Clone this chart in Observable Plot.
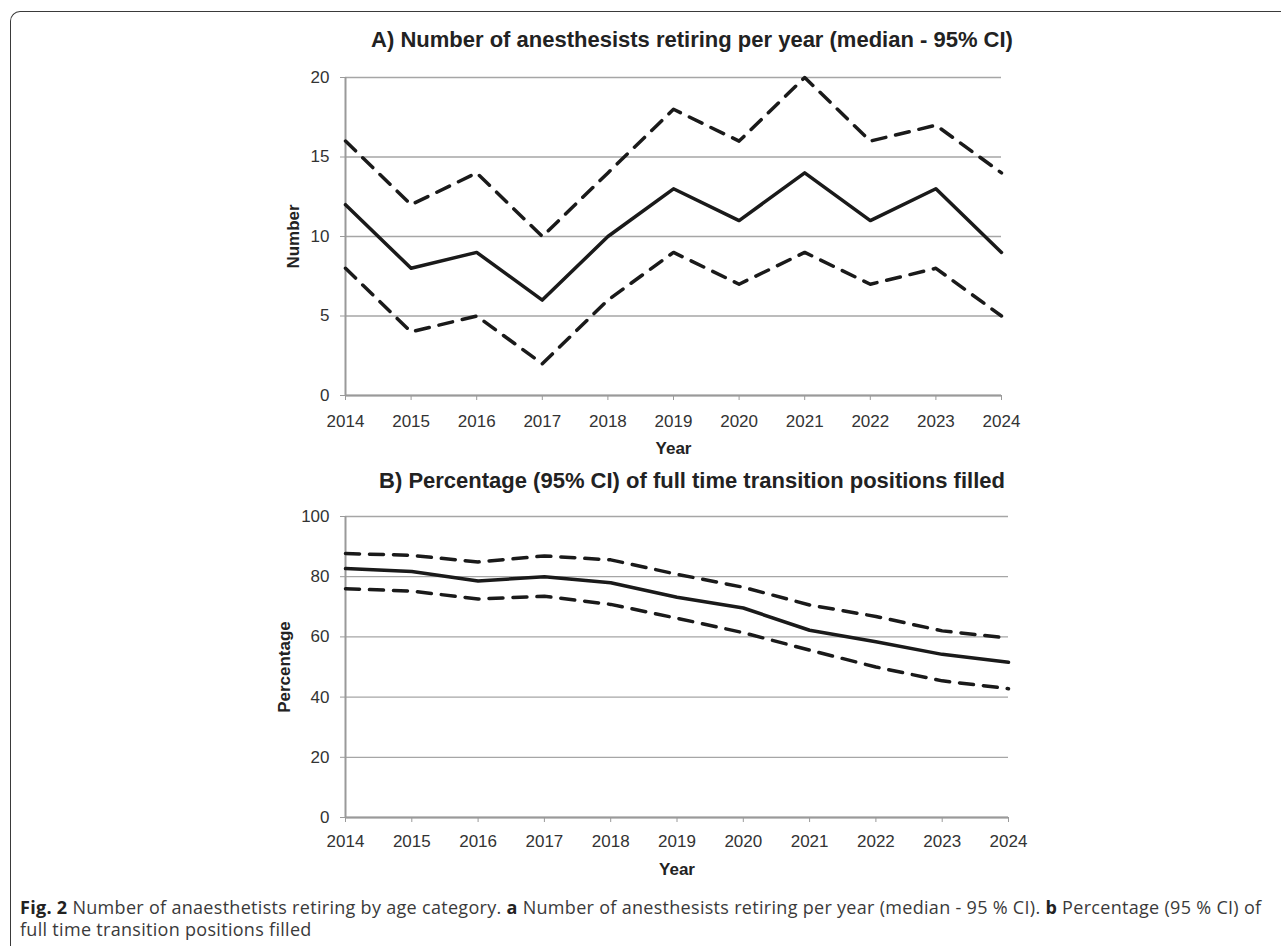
<!DOCTYPE html>
<html>
<head>
<meta charset="utf-8">
<script src="https://cdn.jsdelivr.net/npm/d3@7"></script>
<script src="https://cdn.jsdelivr.net/npm/@observablehq/plot@0.6"></script>
<style>
  html, body { margin: 0; padding: 0; background: #fff; }
  #page { position: relative; width: 1281px; height: 946px; overflow: hidden; font-family: "Liberation Sans", Arial, sans-serif; }
  #frame { position: absolute; left: 10px; top: 11px; width: 1400px; height: 1000px;
           border-left: 1.5px solid #3a3a3a; border-top: 1.5px solid #3a3a3a; border-top-left-radius: 10px; }
  .title { position: absolute; left: 362px; width: 660px; text-align: center; font-weight: bold;
           font-size: 22px; line-height: 26px; color: #222; white-space: nowrap; }
  .chart { position: absolute; left: 0; }
  #caption { position: absolute; left: 20px; top: 896px; width: 1258px; font-family: "Open Sans", sans-serif;
             font-size: 18px; letter-spacing: 0.3px; line-height: 22px; color: #3a3a3a; white-space: nowrap; }
  #caption b { color: #222; }
</style>
</head>
<body>
<div id="page">
  <div id="frame"></div>
  <div class="title" id="titleA" style="top:27px">A) Number of anesthesists retiring per year (median - 95% CI)</div>
  <div class="chart" id="chartA" style="top:60px"></div>
  <div class="title" id="titleB" style="top:468px">B) Percentage (95% CI) of full time transition positions filled</div>
  <div class="chart" id="chartB" style="top:500px"></div>
  <div id="caption"><b>Fig. 2</b> Number of anaesthetists retiring by age category. <b>a</b> Number of anesthesists retiring per year (median - 95 % CI). <b>b</b> Percentage (95 % CI) of<br>full time transition positions filled</div>
</div>
<script>
// ---- Data ----
const years = [2014, 2015, 2016, 2017, 2018, 2019, 2020, 2021, 2022, 2023, 2024];

// Panel A: number retiring per year
const retireMedian = [12, 8, 9, 6, 10, 13, 11, 14, 11, 13, 9];
const retireUpper  = [16, 12, 14, 10, 14, 18, 16, 20, 16, 17, 14];
const retireLower  = [8, 4, 5, 2, 6, 9, 7, 9, 7, 8, 5];

// Panel B: percentage of full time transition positions filled
const pctMedian = [82.7, 81.7, 78.6, 80.0, 78.0, 73.2, 69.6, 62.2, 58.4, 54.2, 51.6];
const pctUpper  = [87.7, 87.1, 84.9, 86.9, 85.6, 80.8, 76.5, 70.6, 66.8, 62.0, 59.6];
const pctLower  = [76.0, 75.2, 72.6, 73.5, 70.8, 66.2, 61.4, 55.6, 50.0, 45.4, 42.8];

const yTicksA = [0, 5, 10, 15, 20];
const yTicksB = [0, 20, 40, 60, 80, 100];

const rowsA = years.map((year, i) => ({year, median: retireMedian[i], upper: retireUpper[i], lower: retireLower[i]}));
const rowsB = years.map((year, i) => ({year, median: pctMedian[i], upper: pctUpper[i], lower: pctLower[i]}));

const ink = "#1a1a1a";
const gridColor = "#a6a6a6";
const axisColor = "#9a9a9a";
const labelColor = "#333";

function panel(rows, yDomain, yTicks, yLabel, m) {
  return Plot.plot({
    width: 1281,
    height: 400,
    marginLeft: m.left,
    marginRight: m.right,
    marginTop: m.top,
    marginBottom: m.bottom,
    style: { fontFamily: "'Liberation Sans', Arial, sans-serif", fontSize: "17px", color: labelColor, background: "transparent" },
    x: { type: "linear", domain: [years[0], years[years.length - 1]] },
    y: { domain: yDomain },
    marks: [
      Plot.gridY(yTicks, { stroke: gridColor, strokeOpacity: 1, strokeWidth: 1.3 }),
      Plot.ruleX([years[0]], { stroke: axisColor, strokeWidth: 2 }),
      Plot.ruleY([yDomain[0]], { stroke: axisColor, strokeWidth: 2 }),
      Plot.axisY(yTicks, {
        tickSize: 5, tickPadding: 11, stroke: axisColor, fill: labelColor, fontSize: 17,
        label: yLabel, labelAnchor: "center", labelArrow: "none", labelOffset: m.yLabelOffset
      }),
      Plot.axisX(years, {
        tickSize: 5, tickPadding: m.xPad, stroke: axisColor, fill: labelColor, fontSize: 17,
        tickFormat: d => String(d),
        label: "Year", labelAnchor: "center", labelArrow: "none", labelOffset: m.xLabelOffset
      }),
      Plot.line(rows, { x: "year", y: "upper", stroke: ink, strokeWidth: 3.5, strokeDasharray: "14,10" }),
      Plot.line(rows, { x: "year", y: "lower", stroke: ink, strokeWidth: 3.5, strokeDasharray: "14,10" }),
      Plot.line(rows, { x: "year", y: "median", stroke: ink, strokeWidth: 3.5 })
    ]
  });
}

const chartA = panel(rowsA, [0, 20], yTicksA, "Number",
  { left: 345, right: 280, top: 17, bottom: 65, xPad: 14, yLabelOffset: 59, xLabelOffset: 58 });
const chartB = panel(rowsB, [0, 100], yTicksB, "Percentage",
  { left: 345, right: 273, top: 16, bottom: 83, xPad: 12, yLabelOffset: 68, xLabelOffset: 57 });

// bold axis titles
for (const c of [chartA, chartB]) {
  c.querySelectorAll("[aria-label='x-axis label'] text, [aria-label='y-axis label'] text").forEach(t => {
    t.setAttribute("font-weight", "bold");
    t.setAttribute("fill", "#222");
  });
}

document.getElementById("chartA").appendChild(chartA);
document.getElementById("chartB").appendChild(chartB);
</script>
</body>
</html>
